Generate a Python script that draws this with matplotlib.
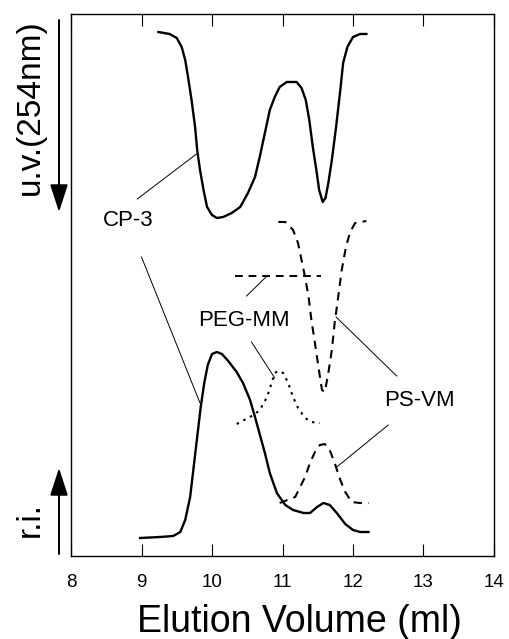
import matplotlib
matplotlib.use('Agg')
import matplotlib.pyplot as plt
from matplotlib.patches import FancyArrowPatch

plt.rcParams['font.family'] = ['Liberation Sans', 'DejaVu Sans']

# elution volume (ml) / detector response (arbitrary units, 0..542)
cp3_uv_x = [9.24, 9.40, 9.50, 9.57, 9.62, 9.66, 9.71, 9.76, 9.79, 9.83, 9.88, 9.93, 10.00,
            10.07, 10.16, 10.28, 10.40, 10.51, 10.61, 10.68, 10.75, 10.82, 10.89, 10.96, 11.06,
            11.20, 11.27, 11.33, 11.38, 11.43, 11.48, 11.52, 11.57, 11.61, 11.65, 11.70, 11.76,
            11.82, 11.86, 11.92, 12.00, 12.10, 12.19]
cp3_uv_y = [524, 522, 518, 509, 496, 479, 456, 429, 406, 386, 366, 349, 341,
            338, 339, 343, 349, 363, 379, 400, 423, 446, 459, 469, 474,
            474, 468, 456, 436, 409, 386, 366, 354, 358, 373, 396, 429,
            466, 493, 509, 519, 522, 522]

psvm_uv_x = [10.94, 11.04, 11.15, 11.22, 11.27, 11.32, 11.37, 11.41, 11.46, 11.51, 11.56, 11.60,
             11.65, 11.70, 11.74, 11.79, 11.84, 11.90, 11.96, 12.03, 12.19]
psvm_uv_y = [334, 334, 326, 313, 296, 279, 259, 236, 213, 189, 166, 164,
             183, 206, 233, 259, 286, 309, 324, 333, 335]

pegmm_uv_x = [10.33, 11.55]
pegmm_uv_y = [280, 280]

cp3_ri_x = [8.98, 9.26, 9.45, 9.55, 9.62, 9.69, 9.74, 9.79, 9.84, 9.89, 9.94, 10.00, 10.07,
            10.14, 10.23, 10.35, 10.44, 10.54, 10.61, 10.68, 10.75, 10.82, 10.92, 11.04, 11.15,
            11.30, 11.39, 11.49, 11.58, 11.67, 11.77, 11.89, 12.00, 12.10, 12.22]
cp3_ri_y = [18, 19, 20, 24, 36, 59, 89, 119, 149, 173, 191, 202, 204,
            202, 195, 184, 173, 156, 139, 121, 103, 83, 63, 51, 46,
            43, 43, 49, 53, 51, 43, 32, 26, 24, 24]

pegmm_ri_x = [10.35, 10.59, 10.68, 10.78, 10.85, 10.89, 10.94, 11.01, 11.08, 11.15, 11.22, 11.32,
              11.41, 11.53]
pegmm_ri_y = [132, 141, 146, 159, 174, 183, 185, 183, 173, 159, 148, 138, 134, 133]

psvm_ri_x = [10.96, 11.18, 11.25, 11.32, 11.39, 11.46, 11.53, 11.60, 11.67, 11.74, 11.82, 11.89,
             11.98, 12.10, 12.22]
psvm_ri_y = [53, 59, 69, 79, 93, 104, 111, 112, 106, 93, 76, 64, 54, 53, 53]

# labels and their leader lines
labels = ['CP-3', 'PEG-MM', 'PS-VM']
label_pos = [(8.81, 336), (10.45, 236), (12.94, 156)]
leaders = [
    [((8.94, 357), (9.78, 402)), ((9.00, 299), (9.83, 153))],
    [((10.49, 260), (10.78, 280)), ((10.56, 214), (10.89, 178))],
    [((12.62, 180), (11.76, 239)), ((12.50, 131), (11.77, 89))],
]

xticks = [8, 9, 10, 11, 12, 13, 14]

W, H = 509, 639
fig = plt.figure(figsize=(W / 100, H / 100), dpi=100)
ax = fig.add_axes([71 / W, (H - 556) / H, 423 / W, 542 / H])

dash = (0, (4, 3))
ax.plot(cp3_uv_x, cp3_uv_y, color='black', lw=1.7)
ax.plot(psvm_uv_x, psvm_uv_y, color='black', lw=1.5, linestyle=dash)
ax.plot(pegmm_uv_x, pegmm_uv_y, color='black', lw=1.4, linestyle=dash)
ax.plot(cp3_ri_x, cp3_ri_y, color='black', lw=1.7)
ax.plot(pegmm_ri_x, pegmm_ri_y, color='black', lw=1.5, linestyle=(0, (1.2, 2.4)))
ax.plot(psvm_ri_x, psvm_ri_y, color='black', lw=1.5, linestyle=dash)

for name, pos, lines in zip(labels, label_pos, leaders):
    ax.text(pos[0], pos[1], name, fontsize=16, ha='center', va='center')
    for (x0, y0), (x1, y1) in lines:
        ax.plot([x0, x1], [y0, y1], color='black', lw=0.7)

ax.set_xlim(8, 14)
ax.set_ylim(0, 542)
ax.set_xticks(xticks)
ax.set_yticks([])
ax.tick_params(axis='x', direction='in', length=8.5, width=0.8, top=True,
               labelsize=13.5, pad=13)
for s in ax.spines.values():
    s.set_linewidth(1.0)
ax.set_xlabel('Elution Volume (ml)', fontsize=27, labelpad=9)
ax.xaxis.label.set_x(0.54)

# detector labels with arrows on the left
fig.text(30 / W, 1 - 107 / H, 'u.v.(254nm)', rotation=90, fontsize=24,
         ha='center', va='center')
fig.text(30 / W, 1 - 520 / H, 'r.i.', rotation=90, fontsize=24,
         ha='center', va='center')
arrow = dict(arrowstyle='-|>,head_length=1.7,head_width=0.55', mutation_scale=10,
             color='black', lw=1.4, shrinkA=0, shrinkB=0)
fig.add_artist(FancyArrowPatch((59 / W, 1 - 20 / H), (59 / W, 1 - 212 / H),
               transform=fig.transFigure, **arrow))
fig.add_artist(FancyArrowPatch((59 / W, 1 - 554 / H), (59 / W, 1 - 468 / H),
               transform=fig.transFigure, **arrow))

plt.savefig('out.png', dpi=100)
